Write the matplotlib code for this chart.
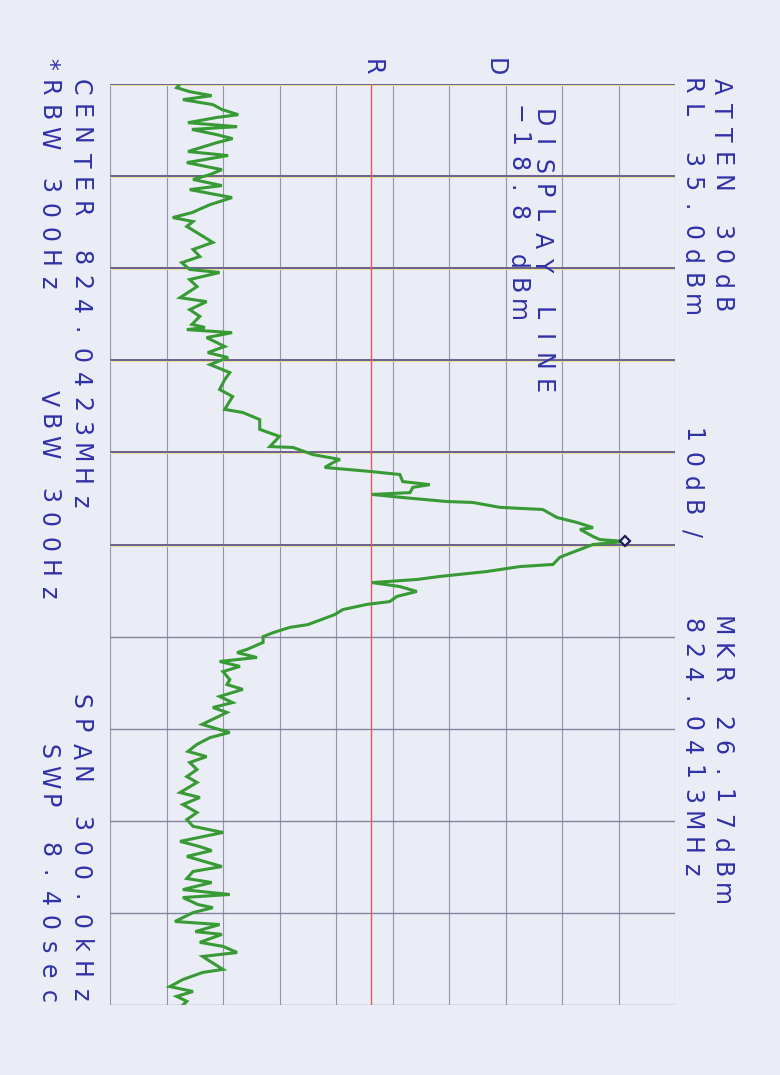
import numpy as np
import matplotlib
matplotlib.use("Agg")
from matplotlib import pyplot as plt

# analyzer settings printed on the sheet
ref_level = 35.0        # dBm (RL)
db_per_div = 10
span_khz = 300.0
display_line = -18.8    # dBm
mkr_level = 26.17       # dBm
mkr_offset = -1.0       # kHz, 824.0413 MHz against center 824.0423 MHz

# trace: offset from center (kHz) and level (dBm)
freq_khz = [
    -150.0, -148.8, -147.5, -146.2, -144.9, -143.3, -141.7, -140.0, -139.1, -137.4,
    -136.1, -135.2, -133.5, -132.2, -130.9, -128.0, -126.7, -124.4, -122.1, -120.5,
    -118.9, -116.9, -115.6, -113.0, -110.7, -108.1, -106.5, -105.2, -103.6, -101.0,
    -98.4, -96.1, -93.8, -91.8, -89.6, -88.6, -86.3, -84.0, -80.4, -79.1,
    -76.5, -74.3, -71.7, -70.7, -70.0, -69.0, -67.4, -64.5, -62.5, -60.9,
    -58.6, -56.0, -53.7, -50.5, -48.2, -44.0, -43.0, -40.7, -37.5, -35.2,
    -31.9, -31.6, -29.3, -27.7, -26.7, -25.1, -23.8, -22.8, -20.5, -19.5,
    -18.6, -16.9, -16.3, -15.3, -14.0, -13.7, -12.1, -11.4, -8.8, -7.2,
    -5.5, -4.9, -2.6, -1.6, -1.0, 0.0, 1.6, 3.3, 4.2, 6.5,
    7.2, 8.8, 10.4, 11.4, 12.4, 13.7, 15.3, 16.9, 18.6, 19.5,
    21.2, 22.8, 24.4, 26.1, 27.0, 28.7, 30.0, 31.9, 34.2, 35.2,
    36.8, 38.1, 39.7, 41.4, 44.0, 45.6, 47.2, 49.5, 51.5, 53.1,
    54.7, 56.3, 58.6, 60.3, 61.2, 62.9, 65.1, 67.4, 69.1, 71.0,
    73.3, 75.6, 77.5, 80.8, 82.4, 84.7, 87.3, 89.6, 91.8, 93.8,
    96.7, 98.4, 99.7, 101.6, 104.9, 106.5, 108.8, 110.1, 112.4, 114.0,
    115.0, 117.3, 118.3, 119.9, 122.8, 123.8, 126.1, 127.0, 129.6, 130.9,
    132.9, 134.2, 136.1, 138.4, 139.4, 141.7, 144.0, 145.6, 147.2, 148.8,
    150.0,
]
level_dbm = [
    -52.6, -53.2, -50.9, -47.0, -52.1, -46.8, -45.2, -42.3, -46.1, -51.2,
    -42.5, -50.5, -46.1, -43.3, -46.1, -51.2, -44.1, -51.4, -45.2, -47.3,
    -50.3, -45.2, -50.9, -43.4, -47.3, -50.5, -53.9, -50.3, -51.4, -49.1,
    -46.8, -50.3, -49.1, -52.3, -50.9, -45.6, -50.9, -49.6, -52.6, -47.9,
    -50.9, -49.1, -50.5, -48.2, -51.4, -43.4, -47.9, -44.7, -47.7, -44.1,
    -47.3, -43.8, -44.7, -45.6, -43.3, -44.7, -41.5, -38.5, -38.5, -35.0,
    -36.7, -32.6, -29.1, -24.3, -25.5, -27.0, -19.0, -13.7, -13.2, -8.4,
    -11.4, -11.9, -18.6, -13.2, -5.4, -0.8, 4.0, 11.6, 14.1, 17.6,
    20.5, 18.2, 20.5, 21.7, 26.1, 20.5, 18.2, 15.8, 14.6, 13.4,
    7.5, 1.7, -6.6, -10.7, -18.6, -13.7, -10.7, -14.2, -15.5, -19.5,
    -23.8, -25.2, -27.5, -30.0, -33.2, -36.1, -37.9, -37.9, -40.8, -42.5,
    -39.0, -45.6, -42.0, -45.0, -43.8, -44.3, -41.5, -45.6, -43.3, -46.8,
    -44.3, -46.1, -48.7, -45.6, -43.8, -47.3, -49.6, -51.2, -47.9, -50.9,
    -49.6, -51.4, -49.6, -52.6, -49.1, -52.1, -49.6, -51.4, -50.3, -45.0,
    -52.6, -49.1, -47.0, -51.4, -45.2, -50.3, -51.4, -47.0, -52.1, -43.8,
    -52.1, -49.4, -46.8, -50.3, -53.5, -45.6, -49.9, -45.2, -49.1, -45.0,
    -42.5, -48.6, -47.0, -45.0, -48.6, -52.1, -54.4, -50.3, -53.2, -51.4,
    -52.1,
]

# plotter annotations (text, column x px, first char center y px)
labels = [
    ("ATTEN 30dB", 721, 86),
    ("RL 35.0dBm", 691, 86),
    ("10dB/", 691, 435),
    ("MKR 26.17dBm", 721, 626),
    ("824.0413MHz", 691, 626),
    ("DISPLAY LINE", 542, 118),
    ("\u221218.8 dBm", 517, 115),
    ("CENTER 824.0423MHz", 80, 87),
    ("*RBW 300Hz", 48, 64),
    ("VBW 300Hz", 48, 398),
    ("SPAN 300.0kHz", 80, 702),
    ("SWP 8.40sec", 48, 752),
    ("R", 372, 67),
    ("D", 495, 67),
]

W, H = 780, 1075
paper = "#eaedf6"
ink = "#3030a8"
trace_col = "#389a34"

fig = plt.figure(figsize=(W / 100, H / 100), dpi=100)
fig.patch.set_facecolor(paper)

ax = fig.add_axes([110 / W, 70 / H, 565 / W, 921 / H])
ax.set_facecolor(paper)
bottom = ref_level - 10 * db_per_div
ax.set_xlim(bottom, ref_level)
ax.set_ylim(span_khz / 2, -span_khz / 2)
for s in ax.spines.values():
    s.set_visible(False)
ax.set_xticks([])
ax.set_yticks([])

# amplitude divisions (vertical on the sheet)
for lv in np.arange(bottom, ref_level + 1, db_per_div):
    ax.axvline(lv, color="#9492a8", lw=0.8, zorder=1)

# frequency divisions (horizontal on the sheet)
for f in np.linspace(-span_khz / 2, span_khz / 2, 11):
    if f <= 0:
        ax.axhline(f, color="#e6df9c", lw=2.2, zorder=1)
        ax.axhline(f, color="#564c8e", lw=1.2, zorder=2)
    else:
        ax.axhline(f, color="#84829c", lw=1.0, zorder=2)

ax.axvline(display_line, color="#e85656", lw=1.0, zorder=2)

ax.plot(level_dbm, freq_khz, color=trace_col, lw=2.2, zorder=3,
        solid_joinstyle="miter")
ax.plot([mkr_level], [mkr_offset], marker="D", ms=5, mfc=paper,
        mec="#1c1c5c", mew=1.6, zorder=4, clip_on=False)


def plotter_text(s, x, y0, pitch=24.4):
    for i, ch in enumerate(s):
        if ch == " ":
            continue
        fig.text(x / W, 1 - (y0 + i * pitch) / H, ch, rotation=-90,
                 ha="center", va="center", fontsize=17, color=ink,
                 family="DejaVu Sans")


for txt, x, y0 in labels:
    plotter_text(txt, x, y0)

fig.savefig("out.png", dpi=100, facecolor=paper)
